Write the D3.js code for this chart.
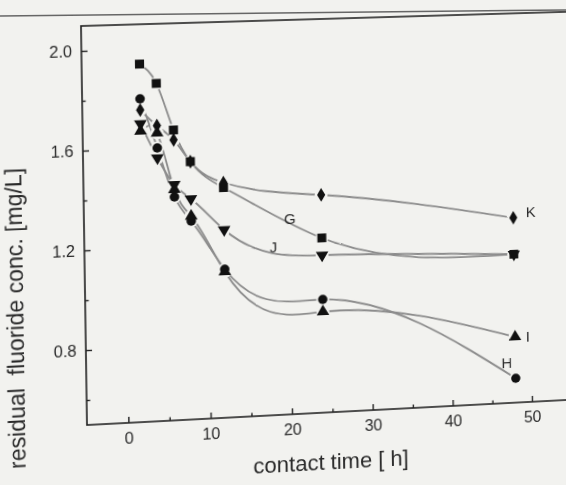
<!DOCTYPE html>
<html>
<head>
<meta charset="utf-8">
<script src="https://d3js.org/d3.v7.min.js"></script>
<style>
    body {
        margin: 0;
        background-color: #f2f2ef;
        overflow: hidden;
    }
    svg {
        position: absolute;
        left: 0;
        top: 0;
        display: block;
        overflow: visible;
        font-family: 'Liberation Sans', Arial, sans-serif;
    }
</style>
</head>
<body>
<svg id="page" width="566" height="485"></svg>
<svg id="chart" width="566" height="485"></svg>
<script>
    // contact time [h]
    var times = [2, 4, 6, 8, 12, 24, 48];

    // residual fluoride conc. [mg/L] per adsorbent
    var seriesG = [1.94, 1.86, 1.67, 1.54, 1.43, 1.21, 1.11];
    var seriesH = [1.80, 1.60, 1.40, 1.30, 1.10, 0.96, 0.60];
    var seriesI = [1.67, 1.66, 1.43, 1.32, 1.09, 0.91, 0.77];
    var seriesJ = [1.70, 1.56, 1.45, 1.39, 1.26, 1.14, 1.11];
    var seriesK = [1.755, 1.69, 1.63, 1.54, 1.45, 1.385, 1.26];

    var xTicks = [0, 10, 20, 30, 40, 50];
    var xMinor = [5, 15, 25, 35, 45];
    var yTicks = [0.8, 1.2, 1.6, 2.0];
    var yMinor = [0.6, 1.0, 1.4, 1.8];

    var series = [
        {name: "G", values: seriesG, type: d3.symbolSquare, size: 80, rot: 0, label: [20.1, 1.294]},
        {name: "H", values: seriesH, type: d3.symbolCircle, size: 70, rot: 0, label: [46.9, 0.666]},
        {name: "I", values: seriesI, type: d3.symbolTriangle, size: 68, rot: 0, label: [49.6, 0.77]},
        {name: "J", values: seriesJ, type: d3.symbolTriangle, size: 68, rot: 180, label: [18.0, 1.181]},
        {name: "K", values: seriesK, type: d3.symbolDiamond, size: 58, rot: 0, label: [50.2, 1.28]}
    ];

    // natural cubic spline as a function of x (like the plotting program's spline)
    function NaturalX(context) { this._context = context; }
    NaturalX.prototype = {
        areaStart: function() { this._line = 0; },
        areaEnd: function() { this._line = NaN; },
        lineStart: function() { this._x = []; this._y = []; },
        point: function(px, py) { this._x.push(+px); this._y.push(+py); },
        lineEnd: function() {
            var xs = this._x, ys = this._y, n = xs.length, ctx = this._context;
            if (!n) return;
            ctx.moveTo(xs[0], ys[0]);
            if (n === 2) { ctx.lineTo(xs[1], ys[1]); return; }
            var h = [], i;
            for (i = 0; i < n - 1; i++) h.push(xs[i + 1] - xs[i]);
            var M = new Array(n).fill(0), a = [], b = [], c = [], r = [];
            for (i = 1; i < n - 1; i++) {
                a.push(h[i - 1]);
                b.push(2 * (h[i - 1] + h[i]));
                c.push(h[i]);
                r.push(6 * ((ys[i + 1] - ys[i]) / h[i] - (ys[i] - ys[i - 1]) / h[i - 1]));
            }
            var m = b.length;
            for (i = 1; i < m; i++) {
                var w = a[i] / b[i - 1];
                b[i] -= w * c[i - 1];
                r[i] -= w * r[i - 1];
            }
            M[m] = r[m - 1] / b[m - 1];
            for (i = m - 2; i >= 0; i--) M[i + 1] = (r[i] - c[i] * M[i + 2]) / b[i];
            for (i = 0; i < n - 1; i++) {
                var s = (ys[i + 1] - ys[i]) / h[i];
                var d0 = s - h[i] * (2 * M[i] + M[i + 1]) / 6;
                var d1 = s + h[i] * (M[i] + 2 * M[i + 1]) / 6;
                ctx.bezierCurveTo(xs[i] + h[i] / 3, ys[i] + d0 * h[i] / 3,
                                  xs[i + 1] - h[i] / 3, ys[i + 1] - d1 * h[i] / 3,
                                  xs[i + 1], ys[i + 1]);
            }
        }
    };
    function curveNaturalX(context) { return new NaturalX(context); }

    // perspective of the photographed page: 4 corners straight -> as seen
    function homography(src, dst) {
        var A = [], B = [], i, k, r;
        for (i = 0; i < 4; i++) {
            var X = src[i][0], Y = src[i][1], u = dst[i][0], v = dst[i][1];
            A.push([X, Y, 1, 0, 0, 0, -u * X, -u * Y]); B.push(u);
            A.push([0, 0, 0, X, Y, 1, -v * X, -v * Y]); B.push(v);
        }
        for (i = 0; i < 8; i++) {
            var p = i;
            for (r = i + 1; r < 8; r++) if (Math.abs(A[r][i]) > Math.abs(A[p][i])) p = r;
            var t = A[i]; A[i] = A[p]; A[p] = t;
            t = B[i]; B[i] = B[p]; B[p] = t;
            for (r = i + 1; r < 8; r++) {
                var f = A[r][i] / A[i][i];
                for (k = i; k < 8; k++) A[r][k] -= f * A[i][k];
                B[r] -= f * B[i];
            }
        }
        var h = new Array(8);
        for (r = 7; r >= 0; r--) {
            var s = B[r];
            for (k = r + 1; k < 8; k++) s -= A[r][k] * h[k];
            h[r] = s / A[r][r];
        }
        return h;
    }

    // page rule along the top of the scan
    d3.select("#page").append("line")
        .attr("x1", 0).attr("y1", 16)
        .attr("x2", 566).attr("y2", 10)
        .attr("stroke", "#666")
        .attr("stroke-width", 1.5);

    var svg = d3.select("#chart");
    var H = homography(
        [[87, 26], [87, 426], [566, 426], [566, 26]],
        [[81, 26], [87, 425], [566, 400], [560, 12]]);
    svg.style("transform-origin", "0 0")
        .style("transform", "matrix3d(" + [H[0], H[3], 0, H[6], H[1], H[4], 0, H[7],
            0, 0, 1, 0, H[2], H[5], 0, 1].join(",") + ")");

    var g = svg.append("g");

    var x = d3.scaleLinear().domain([-5, 55]).range([87, 571.4]);
    var y = d3.scaleLinear().domain([0.5, 2.1]).range([426, 26]);

    // frame
    g.append("rect")
        .attr("x", x(-5))
        .attr("y", y(2.1))
        .attr("width", x(56) - x(-5))
        .attr("height", y(0.5) - y(2.1))
        .attr("fill", "none")
        .attr("stroke", "#222")
        .attr("stroke-width", 1.6);

    var xAxis = g.append("g")
        .attr("transform", "translate(0," + y(0.5) + ")")
        .call(d3.axisBottom(x).tickValues(xTicks).tickSizeInner(-6).tickSizeOuter(0).tickPadding(10));
    var xAxisMinor = g.append("g")
        .attr("transform", "translate(0," + y(0.5) + ")")
        .call(d3.axisBottom(x).tickValues(xMinor).tickSize(-3.5).tickFormat(""));
    var yAxis = g.append("g")
        .attr("transform", "translate(" + x(-5) + ",0)")
        .call(d3.axisLeft(y).tickValues(yTicks).tickSizeInner(-6).tickSizeOuter(0).tickPadding(9)
            .tickFormat(d3.format(".1f")));
    var yAxisMinor = g.append("g")
        .attr("transform", "translate(" + x(-5) + ",0)")
        .call(d3.axisLeft(y).tickValues(yMinor).tickSize(-3.5).tickFormat(""));

    [xAxis, xAxisMinor, yAxis, yAxisMinor].forEach(function(a) {
        a.select(".domain").remove();
        a.selectAll("line").attr("stroke", "#222").attr("stroke-width", 1.4);
        a.selectAll("text")
            .attr("fill", "#2a2a2a")
            .style("font-size", "16px")
            .style("font-family", "'Liberation Sans', Arial, sans-serif");
    });

    g.append("text")
        .attr("x", (x(-5) + x(55)) / 2 - 2)
        .attr("y", 484)
        .attr("text-anchor", "middle")
        .attr("fill", "#2a2a2a")
        .style("font-size", "22px")
        .text("contact time [ h]");

    g.append("text")
        .attr("transform", "translate(27,316) rotate(-90)")
        .attr("text-anchor", "middle")
        .attr("fill", "#2a2a2a")
        .style("font-size", "23px")
        .style("white-space", "pre")
        .text("residual  fluoride conc. [mg/L]");

    var line = d3.line()
        .x(function(d, i) { return x(times[i]); })
        .y(function(d) { return y(d); })
        .curve(curveNaturalX);

    g.selectAll(".curve")
        .data(series)
        .enter().append("path")
        .attr("class", "curve")
        .attr("fill", "none")
        .attr("stroke", "#8c8c8c")
        .attr("stroke-width", 1.8)
        .attr("d", function(s) { return line(s.values); });

    // small gaps where the curves meet the markers
    series.forEach(function(s) {
        g.selectAll(null)
            .data(s.values)
            .enter().append("circle")
            .attr("cx", function(d, i) { return x(times[i]); })
            .attr("cy", function(d) { return y(d); })
            .attr("r", 6.5)
            .attr("fill", "#f2f2ef");
    });

    series.forEach(function(s) {
        g.selectAll(null)
            .data(s.values)
            .enter().append("path")
            .attr("d", d3.symbol().type(s.type).size(s.size))
            .attr("transform", function(d, i) {
                return "translate(" + x(times[i]) + "," + y(d) + ") rotate(" + s.rot + ")";
            })
            .attr("fill", "#111");

        g.append("text")
            .attr("x", x(s.label[0]))
            .attr("y", y(s.label[1]))
            .attr("dy", "0.35em")
            .attr("text-anchor", "middle")
            .attr("fill", "#2a2a2a")
            .style("font-size", "15px")
            .text(s.name);
    });
</script>
</body>
</html>
